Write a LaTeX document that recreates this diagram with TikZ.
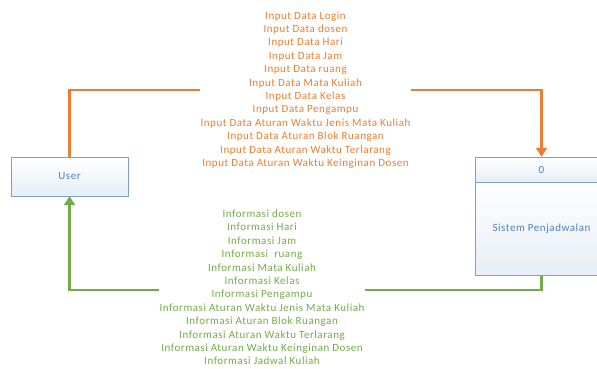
\documentclass[tikz,border=0pt]{standalone}
\usepackage{fontspec}
\setmainfont{Carlito}
\usetikzlibrary{positioning, arrows.meta}
\definecolor{flowin}{HTML}{ED7D31}
\definecolor{flowout}{HTML}{70AD47}
\definecolor{boxline}{HTML}{7BA0CD}
\definecolor{boxtext}{HTML}{4F81BD}
\tikzset{entity/.style={rectangle, draw=boxline, top color=white,
bottom color=boxline!18, text=boxtext, inner sep=0pt,
font=\fontsize{11}{13}\selectfont\addfontfeature{LetterSpace=5}}}
\tikzset{flowlabel/.style={fill=white, align=center, inner sep=0.5pt,
font=\fontsize{11}{13.4}\selectfont\addfontfeature{LetterSpace=5}}}
\tikzset{flow/.style={line width=2.6pt, -{Triangle[length=9pt, width=11pt]}}}

\begin{document}
\begin{tikzpicture}[x=1pt, y=-1pt]
\clip (0,0) rectangle (597,368);

\node [entity, minimum width = 117pt, minimum height = 39pt] (user) at (69.5, 176.5) {User};
\node [entity, minimum width = 133pt, minimum height = 25pt] (sysno) at (541.5, 169.5) {0};
\node [entity, minimum width = 133pt, minimum height = 93pt,
below = 0pt of sysno] (sys) {Sistem Penjadwalan};

\coordinate (inrow) at (305.5, 90);
\coordinate (outrow) at (262, 290);

\draw [flow, flowin] (user.north) -- (user.north |- inrow) -- (sysno.north |- inrow) -- (sysno.north);
\draw [flow, flowout] (sys.south) -- (sys.south |- outrow) -- (user.south |- outrow) -- (user.south);

\node [flowlabel, text = flowin] (inlabel) at (inrow) {Input Data Login\\
Input Data dosen\\
Input Data Hari\\
Input Data Jam\\
Input Data ruang\\
Input Data Mata Kuliah\\
Input Data Kelas\\
Input Data Pengampu\\
Input Data Aturan Waktu Jenis Mata Kuliah\\
Input Data Aturan Blok Ruangan\\
Input Data Aturan Waktu Terlarang\\
Input Data Aturan Waktu Keinginan Dosen};

\node [flowlabel, text = flowout] (outlabel) at ([yshift=2.5pt] outrow) {Informasi dosen\\
Informasi Hari\\
Informasi Jam\\
Informasi \ ruang\\
Informasi Mata Kuliah\\
Informasi Kelas\\
Informasi Pengampu\\
Informasi Aturan Waktu Jenis Mata Kuliah\\
Informasi Aturan Blok Ruangan\\
Informasi Aturan Waktu Terlarang\\
Informasi Aturan Waktu Keinginan Dosen\\
Informasi Jadwal Kuliah};

\end{tikzpicture}
\end{document}
